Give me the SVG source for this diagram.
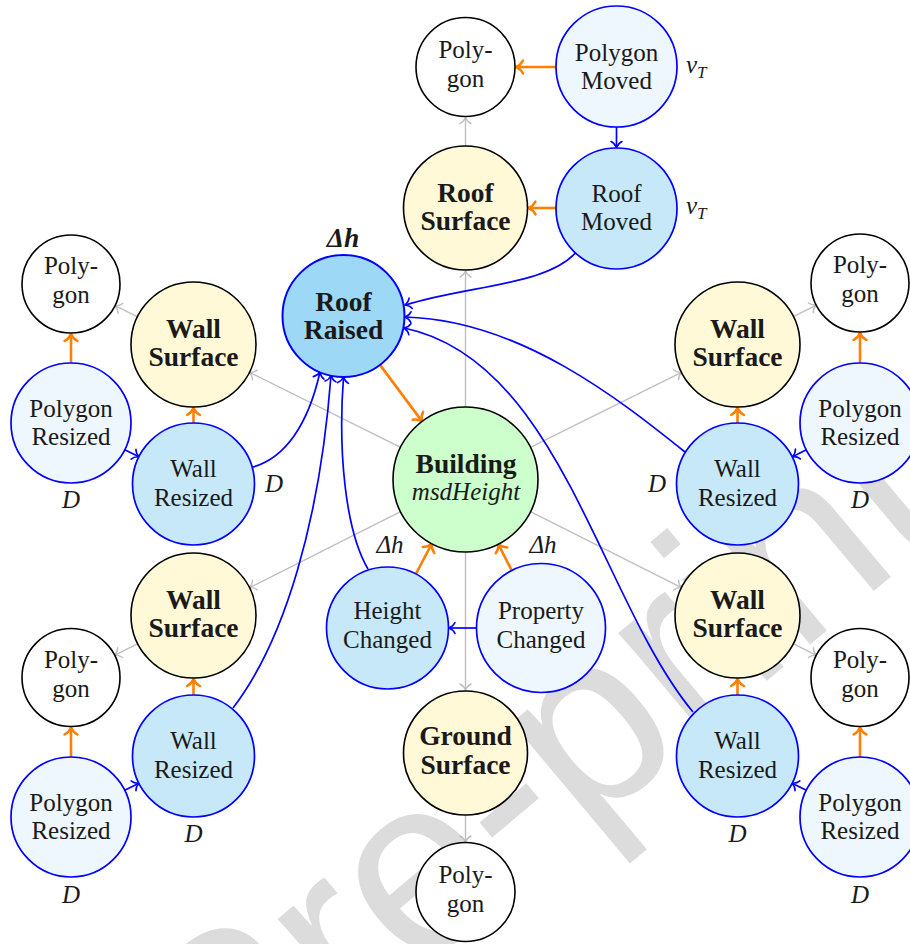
<svg xmlns="http://www.w3.org/2000/svg" width="910" height="944" viewBox="0 0 910 944" font-family="'Liberation Serif', 'DejaVu Serif', serif">
<defs>
<style>
.t{font-size:25px;text-anchor:middle;fill:#1a1a1a}
.b{font-weight:bold;font-size:27.5px}
.i{font-style:italic}
.nb{stroke:#000;stroke-width:1.6}
.nu{stroke:#0000ff;stroke-width:1.7}
.fw{fill:#ffffff}
.fy{fill:#fff9d8}
.fg{fill:#ccffcc}
.fr{fill:#9dd8f6}
.fc{fill:#c6e8f8}
.fp{fill:#eef7fd}
.eg{fill:none;stroke:#bfbfbf;stroke-width:1.4;marker-end:url(#mg)}
.eo{fill:none;stroke:#ff8000;stroke-width:2.6;marker-end:url(#mo)}
.eb{fill:none;stroke:#0000ff;stroke-width:1.7;marker-end:url(#mb)}
.wm{font-size:250px;fill:#dcdcdc}
</style>
<marker id="mb" viewBox="-9 -7 11 14" refX="0" refY="0" markerWidth="11" markerHeight="14" markerUnits="userSpaceOnUse" orient="auto" overflow="visible"><path d="M-6,-5.5 C-4.5,-2 -1.2,-0.5 0,0 C-1.2,0.5 -4.5,2 -6,5.5" fill="none" stroke="#0000ff" stroke-width="1.6" stroke-linecap="round"/></marker>
<marker id="mo" viewBox="-10 -9 12 18" refX="0" refY="0" markerWidth="12" markerHeight="18" markerUnits="userSpaceOnUse" orient="auto" overflow="visible"><path d="M-7,-6.5 C-5,-2.5 -1.5,-0.6 0,0 C-1.5,0.6 -5,2.5 -7,6.5" fill="none" stroke="#ff8000" stroke-width="2.5" stroke-linecap="round"/></marker>
<marker id="mg" viewBox="-9 -7 11 14" refX="0" refY="0" markerWidth="11" markerHeight="14" markerUnits="userSpaceOnUse" orient="auto" overflow="visible"><path d="M-6,-5.5 C-4.5,-2 -1.2,-0.5 0,0 C-1.2,0.5 -4.5,2 -6,5.5" fill="none" stroke="#bfbfbf" stroke-width="1.4" stroke-linecap="round"/></marker>
</defs>
<rect width="910" height="944" fill="#ffffff"/>
<text class="wm" font-family="'Liberation Sans', sans-serif" transform="translate(222,1138) rotate(-40)">Pre-print</text>

<g id="connectors">
<line class="eg" x1="465.5" y1="407" x2="465.5" y2="271"/>
<line class="eg" x1="465.5" y1="146" x2="465.5" y2="117.5"/>
<line class="eg" x1="465.5" y1="552" x2="465.5" y2="690"/>
<line class="eg" x1="465.5" y1="815" x2="465.5" y2="842"/>
<line class="eg" x1="400.6" y1="447.3" x2="249.5" y2="372.3"/>
<line class="eg" x1="400.6" y1="511.7" x2="249.5" y2="587.7"/>
<line class="eg" x1="530.4" y1="447.3" x2="681.5" y2="372.3"/>
<line class="eg" x1="530.4" y1="511.7" x2="681.5" y2="587.7"/>
<line class="eg" x1="137.5" y1="316.8" x2="115" y2="305.7"/>
<line class="eg" x1="137.7" y1="643.7" x2="114.7" y2="655.4"/>
<line class="eg" x1="793.4" y1="316.5" x2="816.2" y2="305"/>
<line class="eg" x1="793.3" y1="643.7" x2="816.3" y2="655.4"/>
<line class="eo" x1="556" y1="67" x2="516" y2="67"/>
<line class="eo" x1="556" y1="208" x2="528.5" y2="208"/>
<line class="eo" x1="380" y1="364.9" x2="422.1" y2="421.4"/>
<line class="eo" x1="415.9" y1="574" x2="431.8" y2="543.7"/>
<line class="eo" x1="511.7" y1="570.4" x2="498.3" y2="544.1"/>
<line class="eo" x1="193.5" y1="423" x2="193.5" y2="408"/>
<line class="eo" x1="71" y1="363" x2="71" y2="334"/>
<line class="eo" x1="737.5" y1="423" x2="737.5" y2="408"/>
<line class="eo" x1="860" y1="363" x2="860" y2="333"/>
<line class="eo" x1="193.5" y1="695" x2="193.5" y2="679"/>
<line class="eo" x1="71" y1="757" x2="71" y2="727.5"/>
<line class="eo" x1="737.5" y1="695" x2="737.5" y2="679"/>
<line class="eo" x1="860" y1="757" x2="860" y2="727.5"/>
<line class="eb" x1="616.5" y1="127" x2="616.5" y2="147.5"/>
<line class="eb" x1="476.3" y1="628" x2="449" y2="628"/>
<line class="eb" x1="124.7" y1="449.8" x2="138.9" y2="456.8"/>
<line class="eb" x1="124.7" y1="790.2" x2="138.9" y2="783.2"/>
<line class="eb" x1="806.4" y1="449.8" x2="792.5" y2="456.7"/>
<line class="eb" x1="806.3" y1="790.2" x2="792.1" y2="783.2"/>
<path class="eb" d="M577,251 C550,285 470,285 405,305"/>
<path class="eb" d="M685,452 C620,400 520,320 405,317"/>
<path class="eb" d="M693,712 C600,600 560,360 404,328"/>
<path class="eb" d="M253,467 C285,458 308,425 320,372"/>
<path class="eb" d="M233,708 C285,640 320,520 331,375.5"/>
<path class="eb" d="M368,569 C345,530 338,450 343.5,377"/>
</g>

<g id="poly-top"><circle class="nb fw" cx="465.5" cy="67" r="49.5"/><text class="t" x="465.5" y="58">Poly-</text><text class="t" x="465.5" y="87">gon</text></g>
<g id="polygon-moved"><circle class="nu fp" cx="616.5" cy="66.5" r="60.5"/><text class="t" x="616.5" y="61">Polygon</text><text class="t" x="616.5" y="89">Moved</text></g>
<g id="roof-surface"><circle class="nb fy" cx="465.5" cy="208" r="62"/><text class="t b" x="465.5" y="202">Roof</text><text class="t b" x="465.5" y="230">Surface</text></g>
<g id="roof-moved"><circle class="nu fc" cx="616.5" cy="208.5" r="60.5"/><text class="t" x="616.5" y="202">Roof</text><text class="t" x="616.5" y="230">Moved</text></g>
<g id="label-vT-1"><text class="t i" x="686" y="73" style="text-anchor:start">v<tspan font-size="17" dy="5">T</tspan></text></g>
<g id="label-vT-2"><text class="t i" x="686" y="214" style="text-anchor:start">v<tspan font-size="17" dy="5">T</tspan></text></g>

<g id="roof-raised"><circle class="fr" cx="343.5" cy="316" r="61" stroke="#0000ff" stroke-width="2"/><text class="t b" x="343.5" y="311">Roof</text><text class="t b" x="343.5" y="339">Raised</text><text class="t b i" x="343" y="247">Δh</text></g>

<g id="building"><circle class="nb fg" cx="465.5" cy="479.5" r="72.5"/><text class="t b" x="466" y="473">Building</text><text class="t i" x="466" y="500" font-size="26">msdHeight</text></g>

<g id="height-changed"><circle class="nu fc" cx="387.5" cy="628" r="61"/><text class="t" x="387.5" y="619">Height</text><text class="t" x="387.5" y="648">Changed</text><text class="t i" x="390" y="553">Δh</text></g>
<g id="property-changed"><circle class="nu fp" cx="541" cy="628" r="64.5"/><text class="t" x="541" y="619">Property</text><text class="t" x="541" y="648">Changed</text><text class="t i" x="543" y="553">Δh</text></g>

<g id="ground-surface"><circle class="nb fy" cx="465.5" cy="753" r="62"/><text class="t b" x="465.5" y="745">Ground</text><text class="t b" x="465.5" y="774">Surface</text></g>
<g id="poly-bottom"><circle class="nb fw" cx="465.5" cy="892" r="49.5"/><text class="t" x="465.5" y="883">Poly-</text><text class="t" x="465.5" y="912">gon</text></g>

<g id="poly-ul"><circle class="nb fw" cx="71" cy="284" r="49"/><text class="t" x="71" y="274">Poly-</text><text class="t" x="71" y="303">gon</text></g>
<g id="wall-surface-ul"><circle class="nb fy" cx="193.5" cy="344.5" r="62.5"/><text class="t b" x="193.5" y="338">Wall</text><text class="t b" x="193.5" y="366">Surface</text></g>
<g id="polygon-resized-ul"><circle class="nu fp" cx="71" cy="423" r="60"/><text class="t" x="71" y="417">Polygon</text><text class="t" x="71" y="445">Resized</text><text class="t i" x="71" y="508">D</text></g>
<g id="wall-resized-ul"><circle class="nu fc" cx="193.5" cy="484" r="61"/><text class="t" x="193.5" y="477">Wall</text><text class="t" x="193.5" y="506">Resized</text><text class="t i" x="274" y="492">D</text></g>

<g id="poly-ur"><circle class="nb fw" cx="860" cy="283" r="49"/><text class="t" x="860" y="273">Poly-</text><text class="t" x="860" y="302">gon</text></g>
<g id="wall-surface-ur"><circle class="nb fy" cx="737.5" cy="344.5" r="62.5"/><text class="t b" x="737.5" y="338">Wall</text><text class="t b" x="737.5" y="366">Surface</text></g>
<g id="polygon-resized-ur"><circle class="nu fp" cx="860" cy="423" r="60"/><text class="t" x="860" y="417">Polygon</text><text class="t" x="860" y="445">Resized</text><text class="t i" x="860" y="508">D</text></g>
<g id="wall-resized-ur"><circle class="nu fc" cx="737.5" cy="484" r="61"/><text class="t" x="737.5" y="477">Wall</text><text class="t" x="737.5" y="506">Resized</text><text class="t i" x="657" y="492">D</text></g>

<g id="wall-surface-ll"><circle class="nb fy" cx="193.5" cy="615.5" r="62.5"/><text class="t b" x="193.5" y="609">Wall</text><text class="t b" x="193.5" y="637">Surface</text></g>
<g id="poly-ll"><circle class="nb fw" cx="71" cy="677.5" r="49"/><text class="t" x="71" y="668">Poly-</text><text class="t" x="71" y="697">gon</text></g>
<g id="wall-resized-ll"><circle class="nu fc" cx="193.5" cy="756" r="61"/><text class="t" x="193.5" y="749">Wall</text><text class="t" x="193.5" y="778">Resized</text><text class="t i" x="193.5" y="842">D</text></g>
<g id="polygon-resized-ll"><circle class="nu fp" cx="71" cy="817" r="60"/><text class="t" x="71" y="811">Polygon</text><text class="t" x="71" y="839">Resized</text><text class="t i" x="71" y="903">D</text></g>

<g id="wall-surface-lr"><circle class="nb fy" cx="737.5" cy="615.5" r="62.5"/><text class="t b" x="737.5" y="609">Wall</text><text class="t b" x="737.5" y="637">Surface</text></g>
<g id="poly-lr"><circle class="nb fw" cx="860" cy="677.5" r="49"/><text class="t" x="860" y="668">Poly-</text><text class="t" x="860" y="697">gon</text></g>
<g id="wall-resized-lr"><circle class="nu fc" cx="737.5" cy="756" r="61"/><text class="t" x="737.5" y="749">Wall</text><text class="t" x="737.5" y="778">Resized</text><text class="t i" x="737.5" y="842">D</text></g>
<g id="polygon-resized-lr"><circle class="nu fp" cx="860" cy="817" r="60"/><text class="t" x="860" y="811">Polygon</text><text class="t" x="860" y="839">Resized</text><text class="t i" x="860" y="903">D</text></g>
</svg>
